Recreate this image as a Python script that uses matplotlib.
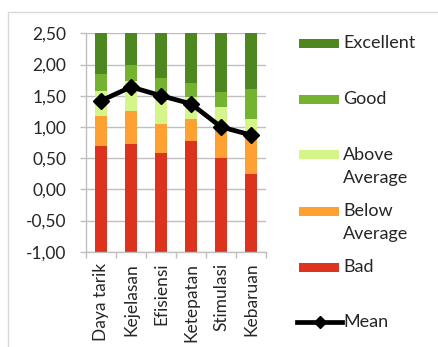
import numpy as np
import matplotlib.pyplot as plt
from matplotlib.patches import Rectangle
from matplotlib.lines import Line2D
from matplotlib.ticker import FuncFormatter, FixedLocator

plt.rcParams['font.family'] = ['Lato', 'DejaVu Sans']

# UEQ scales and benchmark bands (upper bound of each band)
categories = ["Daya tarik", "Kejelasan", "Efisiensi", "Ketepatan", "Stimulasi", "Kebaruan"]
bad_top = [0.70, 0.72, 0.58, 0.77, 0.50, 0.24]
below_avg_top = [1.17, 1.25, 1.05, 1.13, 1.00, 0.82]
above_avg_top = [1.58, 1.73, 1.50, 1.48, 1.32, 1.12]
good_top = [1.84, 2.00, 1.79, 1.70, 1.56, 1.61]
excellent_top = [2.50, 2.50, 2.50, 2.50, 2.50, 2.50]
mean_values = [1.42, 1.64, 1.50, 1.37, 1.00, 0.87]

band_names = ["Bad", "Below Average", "Above Average", "Good", "Excellent"]
band_colors = ["#DC321E", "#FFA032", "#D5F58B", "#73B32F", "#4D8720"]
y_min, y_max = -1.0, 2.5

W, H = 438, 347
fig = plt.figure(figsize=(W / 100, H / 100), dpi=100)
ax = fig.add_axes([86 / W, 1 - 251.7 / H, 180 / W, (251.7 - 33.3) / H])

text_color = "#262626"
grid_color = "#BFBFBF"
tick_fs = 12.5
legend_fs = 13

x = np.arange(len(categories))
bounds = np.vstack([np.full(len(categories), y_min), bad_top, below_avg_top,
                    above_avg_top, good_top, excellent_top])
for i, (name, color) in enumerate(zip(band_names, band_colors)):
    ax.bar(x, bounds[i + 1] - bounds[i], bottom=bounds[i], width=0.39,
           color=color, linewidth=0, zorder=2)

ax.plot(x, mean_values, color="black", lw=3.4, marker="D", markersize=8.5,
        solid_joinstyle="round", zorder=4)

ax.set_xlim(-0.5, len(categories) - 0.5)
ax.set_ylim(y_min, y_max)
ax.set_yticks(np.arange(-1.0, 2.51, 0.5))
ax.yaxis.set_major_formatter(FuncFormatter(lambda v, p: f"{v:.2f}".replace(".", ",")))
ax.grid(axis="y", color=grid_color, lw=1, zorder=0)
ax.set_axisbelow(True)

ax.set_xticks(x)
ax.set_xticklabels(categories, rotation=90)
ax.xaxis.set_minor_locator(FixedLocator(np.arange(-0.5, len(categories), 1.0)))
ax.tick_params(axis="x", which="major", length=0, pad=8, labelsize=tick_fs, labelcolor=text_color)
ax.tick_params(axis="x", which="minor", length=4, width=1, color=grid_color)
ax.tick_params(axis="y", length=4, width=1, color=grid_color, pad=10,
               labelsize=tick_fs, labelcolor=text_color)

for side in ("top", "right"):
    ax.spines[side].set_visible(False)
for side in ("left", "bottom"):
    ax.spines[side].set_color(grid_color)
    ax.spines[side].set_linewidth(1)

# chart frame
fig.add_artist(Rectangle((8 / W, -0.1), 1.2, 1 - 12 / H + 0.1, transform=fig.transFigure,
                         fill=False, edgecolor="#D9D9D9", lw=1))

# legend, drawn in figure pixel positions
def fy(py):
    return 1 - py / H

legend_rows = [("Excellent", band_colors[4], 43),
               ("Good", band_colors[3], 99),
               ("Above\nAverage", band_colors[2], 155),
               ("Below\nAverage", band_colors[1], 211),
               ("Bad", band_colors[0], 267)]
for label, color, py in legend_rows:
    fig.add_artist(Rectangle((299 / W, fy(py + 4.5)), 40 / W, 9 / H,
                             transform=fig.transFigure, color=color, lw=0))
    for k, line in enumerate(label.split("\n")):
        fig.text(343 / W, fy(py + 22.5 * k), line, ha="left", va="center",
                 fontsize=legend_fs, color=text_color)

fig.add_artist(Line2D([297 / W, 319.5 / W, 342 / W], [fy(322)] * 3, color="black",
                      lw=3.4, marker="D", markersize=6.5, markevery=[1],
                      transform=fig.transFigure))
fig.text(343 / W, fy(322), "Mean", ha="left", va="center", fontsize=legend_fs, color=text_color)

fig.savefig("out.png", dpi=100)
